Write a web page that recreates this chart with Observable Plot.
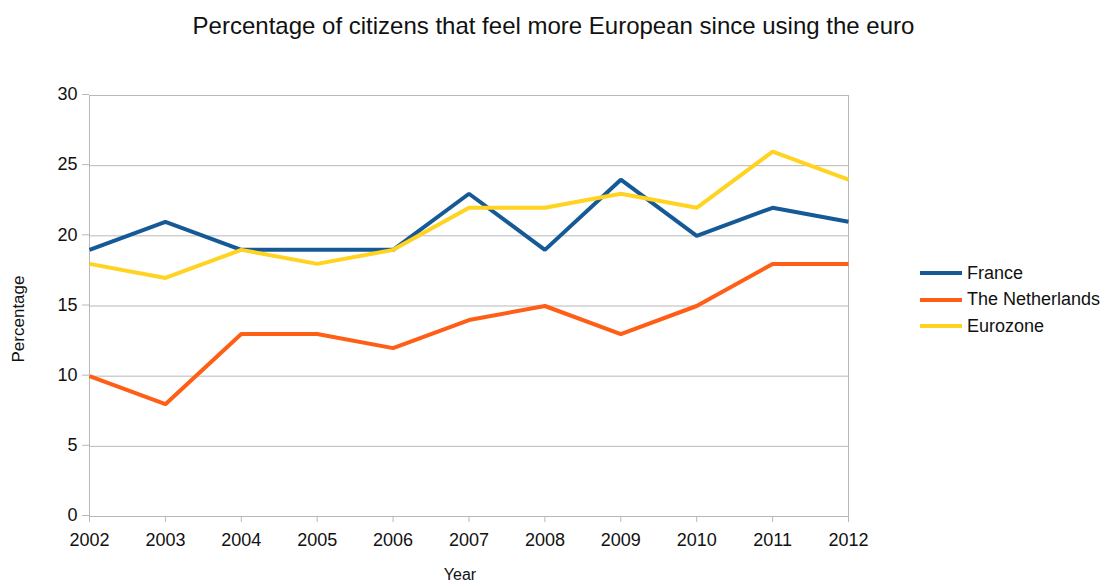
<!DOCTYPE html>
<html>
<head>
<meta charset="utf-8">
<script src="https://cdn.jsdelivr.net/npm/d3@7"></script>
<script src="https://cdn.jsdelivr.net/npm/@observablehq/plot@0.6"></script>
<style>
  body { margin: 0; background: #fff; font-family: "Liberation Sans", Arial, sans-serif; }
  #wrap { position: relative; width: 1107px; height: 583px; }
  #title { position: absolute; top: 12px; left: 0; width: 1107px; text-align: center; font-size: 24px; color: #111; }
  #ylab { position: absolute; left: 19px; top: 319px; transform: translate(-50%, -50%) rotate(-90deg); font-size: 17px; color: #111; white-space: nowrap; }
  #xlab { position: absolute; left: 460px; top: 575px; transform: translate(-50%, -50%); font-size: 16px; color: #111; }
  #legend { position: absolute; left: 920px; top: 260px; font-size: 18px; color: #111; }
  .li { display: flex; align-items: center; height: 26.5px; }
  .sw { width: 42px; height: 4px; margin-right: 5px; }
  svg { position: absolute; left: 0; top: 0; }
</style>
</head>
<body>
<div id="wrap">
  <div id="title">Percentage of citizens that feel more European since using the euro</div>
  <div id="ylab">Percentage</div>
  <div id="xlab">Year</div>
  <div id="legend"></div>
</div>
<script>
const years = [2002, 2003, 2004, 2005, 2006, 2007, 2008, 2009, 2010, 2011, 2012];
const france = [19, 21, 19, 19, 19, 23, 19, 24, 20, 22, 21];
const netherlands = [10, 8, 13, 13, 12, 14, 15, 13, 15, 18, 18];
const eurozone = [18, 17, 19, 18, 19, 22, 22, 23, 22, 26, 24];
const seriesNames = ["France", "The Netherlands", "Eurozone"];
const seriesColors = ["#155a96", "#ff5e17", "#ffd320"];
const yTicks = [0, 5, 10, 15, 20, 25, 30];

const seriesValues = [france, netherlands, eurozone];
const data = [];
seriesNames.forEach((s, i) => years.forEach((y, j) => data.push({series: s, year: y, value: seriesValues[i][j]})));

const chart = Plot.plot({
  width: 1107,
  height: 583,
  marginLeft: 89,
  marginRight: 259,
  marginTop: 95,
  marginBottom: 67,
  style: {fontFamily: "'Liberation Sans', Arial, sans-serif", fontSize: "18px", color: "#111", background: "transparent"},
  x: {domain: [2002, 2012], label: null},
  y: {domain: [0, 30], label: null},
  color: {domain: seriesNames, range: seriesColors},
  marks: [
    Plot.ruleY(yTicks, {stroke: "#b8b8b8", strokeWidth: 1}),
    Plot.ruleX([years[0], years[years.length - 1]], {stroke: "#b8b8b8", strokeWidth: 1}),
    Plot.axisX({ticks: years, tickFormat: "d", tickSize: 6, tickPadding: 11, stroke: "#b8b8b8", fill: "#111", label: null, fontSize: 18}),
    Plot.axisY({ticks: yTicks, tickSize: 7, tickPadding: 5, stroke: "#b8b8b8", fill: "#111", label: null, fontSize: 18, dy: -1}),
    Plot.line(data, {x: "year", y: "value", z: "series", stroke: "series", strokeWidth: 4, strokeLinejoin: "miter", strokeLinecap: "butt"})
  ]
});
document.getElementById("wrap").appendChild(chart);

const legend = document.getElementById("legend");
seriesNames.forEach((s, i) => {
  const row = document.createElement("div");
  row.className = "li";
  const sw = document.createElement("div");
  sw.className = "sw";
  sw.style.background = seriesColors[i];
  const t = document.createElement("span");
  t.textContent = s;
  row.appendChild(sw);
  row.appendChild(t);
  legend.appendChild(row);
});
</script>
</body>
</html>
